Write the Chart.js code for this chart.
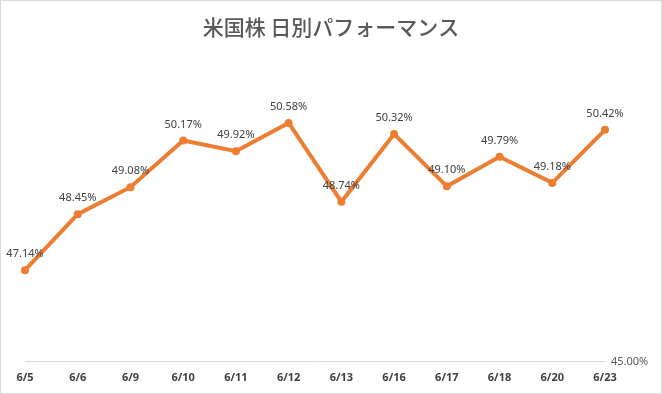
<!DOCTYPE html>
<html><head><meta charset="utf-8">
<script src="https://cdn.jsdelivr.net/npm/chart.js@4"></script>
<style>
html,body{margin:0;padding:0;background:#fff;}
#wrap{position:absolute;left:0;top:0;width:660px;height:392px;border:1px solid #d9d9d9;background:#fff;}
</style></head><body>
<div id="wrap"><canvas id="c" width="660" height="392"></canvas></div>
<script>
const categories = ["6/5","6/6","6/9","6/10","6/11","6/12","6/13","6/16","6/17","6/18","6/20","6/23"];
const performance = [47.14,48.45,49.08,50.17,49.92,50.58,48.74,50.32,49.10,49.79,49.18,50.42];
const yTicks = [45];
const titleText = "米国株 日別パフォーマンス";

const labelPlugin = {
  id:'pointLabels',
  afterDatasetsDraw(chart){
    const ctx = chart.ctx;
    const meta = chart.getDatasetMeta(0);
    ctx.save();
    ctx.font = '11px "Noto Sans", sans-serif';
    ctx.fillStyle = '#404040';
    ctx.textAlign = 'center';
    ctx.textBaseline = 'middle';
    meta.data.forEach((p,i)=>{
      ctx.fillText(performance[i].toFixed(2)+'%', p.x, p.y-16);
    });
    ctx.restore();
  }
};

new Chart(document.getElementById('c'), {
  type:'line',
  data:{labels:categories, datasets:[{
    data:performance,
    borderColor:'#ED7D31',
    backgroundColor:'#ED7D31',
    borderWidth:4,
    pointRadius:4,
    pointHoverRadius:4,
    pointBorderWidth:0,
    tension:0
  }]},
  options:{
    responsive:false,
    animation:false,
    devicePixelRatio:1,
    layout:{padding:{left:6,right:6,top:0,bottom:0}},
    plugins:{
      legend:{display:false},
      tooltip:{enabled:false},
      title:{display:true,text:titleText,color:'#595959',
        font:{family:'"Noto Sans CJK JP", sans-serif',size:21,weight:'500'},
        padding:{top:13,bottom:23}}
    },
    scales:{
      x:{offset:false,
        afterFit(ax){ax.paddingLeft = 24;},
        grid:{display:false,drawTicks:false},
        border:{display:true,color:'#d9d9d9',width:1},
        ticks:{color:'#404040',padding:9,maxRotation:0,autoSkip:false,
          font:{family:'"Noto Sans", sans-serif',size:11,weight:'bold'}}},
      y:{position:'right',min:45,max:52,
        afterBuildTicks(ax){ax.ticks = yTicks.map(v=>({value:v}));},
        afterFit(ax){ax.width = 50;},
        grid:{display:false,drawTicks:false},
        border:{display:false},
        ticks:{color:'#595959',padding:6,
          font:{family:'"Noto Sans", sans-serif',size:11},
          callback:(v)=>v.toFixed(2)+'%'}}
    }
  },
  plugins:[labelPlugin]
});
</script>
</body></html>
